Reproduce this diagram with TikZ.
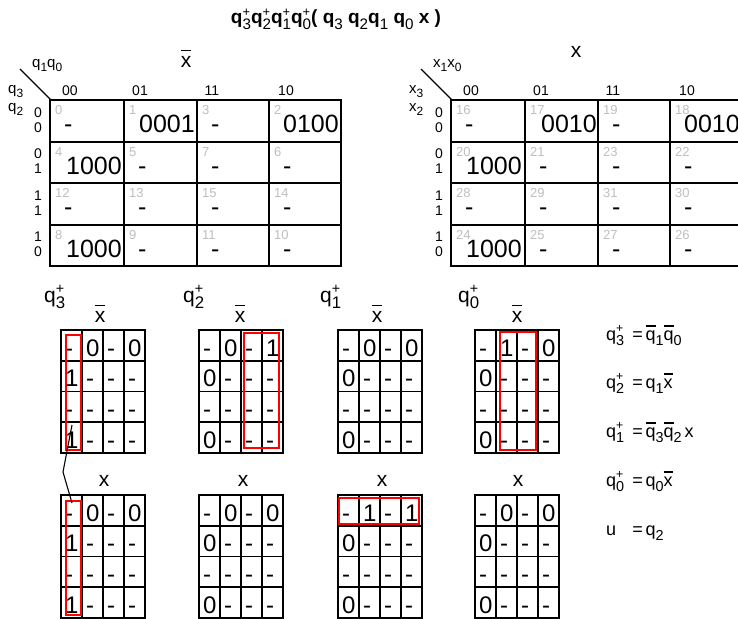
\documentclass[tikz,border=0pt]{standalone}
\usepackage{fontspec}
\setmainfont{Liberation Sans}
\newcommand{\sub}[1]{\raisebox{-0.3em}{\scalebox{0.8}{#1}}}
\newcommand{\supr}[1]{\raisebox{0.42em}{\scalebox{0.68}{#1}}}
\newcommand{\qsp}[2]{q\rlap{\supr{#2}}\sub{#1}}
\newcommand{\qspb}[2]{\textbf{q}\rlap{\supr{#2}}\sub{#1}}
\newcommand{\ovl}[1]{\leavevmode\setbox0\hbox{#1}\rlap{\rule[0.74em]{\wd0}{0.075em}}\box0}
\newcommand{\eqline}[2]{\makebox[1.45em][l]{#1}=\hspace{0.15em}#2}
\tikzset{
 grid/.style={line width=1.8pt, draw=black},
 redbox/.style={draw=red, line width=1.5pt},
 wrapline/.style={draw=black, line width=1.1pt},
 idx/.style={text=black!25, font=\fontsize{13}{13}\selectfont, inner sep=0, anchor=west},
 bigval/.style={font=\fontsize{25}{25}\selectfont, inner sep=0, anchor=base east},
 bigdash/.style={font=\fontsize{25}{25}\selectfont, inner sep=0, anchor=base west},
 smallval/.style={font=\fontsize{24}{24}\selectfont, inner sep=0, anchor=base west},
 hdr/.style={font=\fontsize{14}{14}\selectfont, inner sep=0, anchor=base},
 cornerlbl/.style={font=\fontsize{15}{15}\selectfont, inner sep=0, anchor=base west},
 lbl/.style={font=\fontsize{21}{21}\selectfont, inner sep=0, anchor=base},
 qlbl/.style={font=\fontsize{21}{21}\selectfont, inner sep=0, anchor=base west},
 eqn/.style={font=\fontsize{18}{18}\selectfont, inner sep=0, anchor=base west},
}
% big K-map: #1 prefix, #2 index offset, #3 column vars, #4 upper row var, #5 lower row var
\newcommand{\kbig}[5]{%
  \draw[grid] (50,100) rectangle (341,266);
  \foreach \x in {124,197,269} \draw[grid] (\x,100) -- (\x,266);
  \foreach \y in {142,183,225} \draw[grid] (50,\y) -- (341,\y);
  \draw[line width=1.3pt] (20,69) -- (51,100);
  \node[cornerlbl] (#1cv) at (32,67) {#3};
  \node[cornerlbl] (#1ru) at (8,93) {#4};
  \node[cornerlbl] (#1rl) at (8,111) {#5};
  \foreach \x/\t [count=\k] in {70/00,140/01,212/11,286/10}
    \node[hdr] (#1h\k) at (\x,95) {\t};
  \foreach \y/\a/\b [count=\k] in {121/0/0,162.5/0/1,204/1/1,245.5/1/0}{
    \node[hdr] (#1ra\k) at (38,\y-4) {\a};
    \node[hdr] (#1rb\k) at (38,\y+11) {\b};
  }
  \foreach \x/\cg in {50/0,124/1,197/3,269/2}
    \foreach \y/\rg in {100/0,142/1,183/3,225/2}{
      \pgfmathtruncatemacro\idxn{\rg*4+\cg+#2}
      \node[idx] (#1i\idxn) at (\x+5,\y+10) {\idxn};
    }
  \foreach \x/\y [count=\k] in {50/100,197/100,124/142,197/142,269/142,50/183,124/183,197/183,269/183,124/225,197/225,269/225}
    \node[bigdash] (#1d\k) at (\x+14,\y+32) {-};
}
% small K-map: #1 name, #2 x, #3 y, #4-#7 rows
\newcommand{\smap}[7]{%
  \draw[grid] (#2,#3) rectangle ++(84,123);
  \foreach \i in {1,2,3} {
    \draw[grid] ({#2+21*\i},#3) -- ++(0,123);
    \draw[grid] (#2,{#3+30.75*\i}) -- ++(84,0);
  }
  \foreach \v [count=\c from 0] in {#4} \node[smallval] (#1-0-\c) at ({#2+4+21*\c},{#3+26}) {\v};
  \foreach \v [count=\c from 0] in {#5} \node[smallval] (#1-1-\c) at ({#2+4+21*\c},{#3+26+30.75}) {\v};
  \foreach \v [count=\c from 0] in {#6} \node[smallval] (#1-2-\c) at ({#2+4+21*\c},{#3+26+61.5}) {\v};
  \foreach \v [count=\c from 0] in {#7} \node[smallval] (#1-3-\c) at ({#2+4+21*\c},{#3+26+92.25}) {\v};
}
\begin{document}
\begin{tikzpicture}[x=1pt,y=-1pt]
\useasboundingbox (0,0) rectangle (738,618);
\fill[white] (0,0) rectangle (738,618);
\clip (0,0) rectangle (738,618);

\node[font=\fontsize{19}{19}\selectfont, inner sep=0, anchor=base] (title) at (336,24)
  {\qspb{3}{+}\qspb{2}{+}\qspb{1}{+}\qspb{0}{+}\textbf{(} \textbf{q}\sub{3} \textbf{q}\sub{2}\textbf{q}\sub{1} \textbf{q}\sub{0} \textbf{x} \textbf{)}};

% big maps
\kbig{L}{0}{q\sub{1}q\sub{0}}{q\sub{3}}{q\sub{2}}
\node[bigval] (L01) at (195,132) {0001};
\node[bigval] (L02) at (339,132) {0100};
\node[bigval] (L03) at (122,174) {1000};
\node[bigval] (L04) at (122,257) {1000};
\node[lbl] (xbarL) at (186,67) {\ovl{x}};

\begin{scope}[xshift=401pt]
\kbig{R}{16}{x\sub{1}x\sub{0}}{x\sub{3}}{x\sub{2}}
\node[bigval] (R01) at (196,132) {0010};
\node[bigval] (R02) at (339,132) {0010};
\node[bigval] (R03) at (121,174) {1000};
\node[bigval] (R04) at (121,257) {1000};
\end{scope}
\node[lbl] (xR) at (576,58) {x};

% small maps labels
\node[qlbl] (l3) at (44,302) {\qsp{3}{+}};
\node[qlbl] (l2) at (183,302) {\qsp{2}{+}};
\node[qlbl] (l1) at (320,302) {\qsp{1}{+}};
\node[qlbl] (l0) at (458,302) {\qsp{0}{+}};
\node[lbl] (xb3) at (100,322) {\ovl{x}};
\node[lbl] (xb2) at (240,322) {\ovl{x}};
\node[lbl] (xb1) at (377,322) {\ovl{x}};
\node[lbl] (xb0) at (517,322) {\ovl{x}};
\node[lbl] (x3) at (104,486) {x};
\node[lbl] (x2) at (243,486) {x};
\node[lbl] (x1) at (382,486) {x};
\node[lbl] (x0) at (518,486) {x};

% small maps
\smap{a}{61}{330}{-,0,-,0}{1,-,-,-}{-,-,-,-}{1,-,-,-}
\smap{b}{199}{330}{-,0,-,1}{0,-,-,-}{-,-,-,-}{0,-,-,-}
\smap{c}{338}{330}{-,0,-,0}{0,-,-,-}{-,-,-,-}{0,-,-,-}
\smap{d}{475}{330}{-,1,-,0}{0,-,-,-}{-,-,-,-}{0,-,-,-}
\smap{e}{61}{495}{-,0,-,0}{1,-,-,-}{-,-,-,-}{1,-,-,-}
\smap{f}{199}{495}{-,0,-,0}{0,-,-,-}{-,-,-,-}{0,-,-,-}
\smap{g}{338}{495}{-,1,-,1}{0,-,-,-}{-,-,-,-}{0,-,-,-}
\smap{h}{475}{495}{-,0,-,0}{0,-,-,-}{-,-,-,-}{0,-,-,-}

% groupings
\draw[redbox] (66,335) rectangle (81,450);
\draw[redbox] (244,333) rectangle (279,448);
\draw[redbox] (500,332) rectangle (536,450);
\draw[redbox] (66,501) rectangle (81,615);
\draw[redbox] (339,498) rectangle (419,524);

% wrap-around connector
\coordinate (w1) at (72,425);
\coordinate (w2) at (63,472);
\coordinate (w3) at (72,503);
\draw[wrapline] (w1) -- (w2) -- (w3);

% equations
\node[eqn] (e1) at (606,340) {\eqline{\qsp{3}{+}}{\ovl{q}\sub{1}\ovl{q}\sub{0}}};
\node[eqn] (e2) at (606,388) {\eqline{\qsp{2}{+}}{q\sub{1}\ovl{x}}};
\node[eqn] (e3) at (606,437) {\eqline{\qsp{1}{+}}{\ovl{q}\sub{3}\ovl{q}\sub{2}\,x}};
\node[eqn] (e4) at (606,486) {\eqline{\qsp{0}{+}}{q\sub{0}\ovl{x}}};
\node[eqn] (e5) at (606,535) {\eqline{u}{q\sub{2}}};
\end{tikzpicture}
\end{document}
